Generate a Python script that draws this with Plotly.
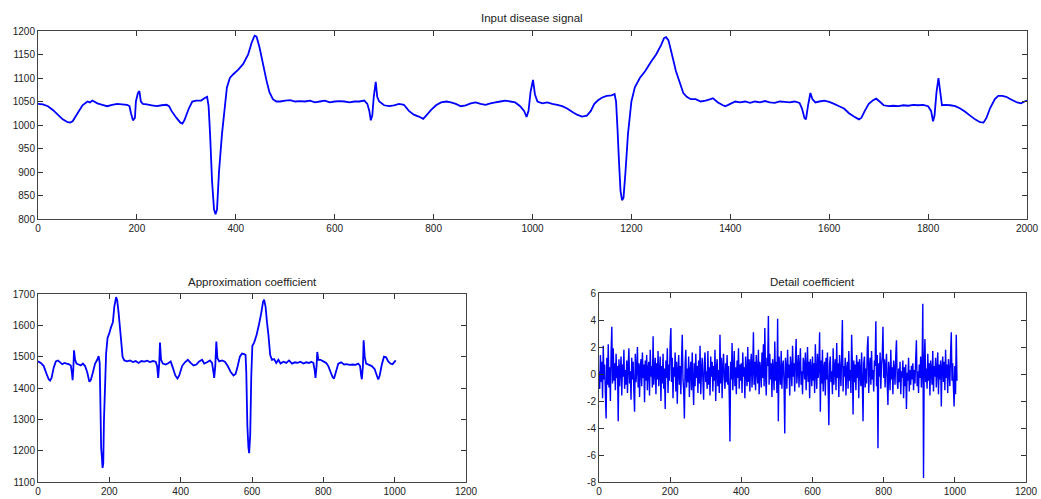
import plotly.graph_objects as go

# ---------------- data ----------------
sig_x = [0, 10, 20, 30, 40, 50, 60, 65, 70, 80, 90, 100, 105, 110, 120, 130, 140, 150, 160, 170,
         180, 185, 188, 192, 196, 198, 202, 205, 208, 212, 220, 230, 240, 250, 260, 265, 270, 280, 288, 292,
         296, 305, 312, 320, 330, 338, 342, 345, 348, 352, 356, 359, 362, 366, 372, 378, 382, 388, 395, 405,
         415, 425, 432, 438, 442, 448, 455, 462, 468, 475, 482, 490, 500, 510, 520, 530, 540, 550, 560, 570,
         580, 590, 600, 610, 620, 630, 640, 650, 660, 666, 670, 673, 676, 679, 683, 686, 690, 700, 710, 720,
         730, 740, 750, 760, 770, 779, 785, 795, 805, 815, 826, 835, 845, 855, 865, 875, 885, 895, 905, 915,
         925, 935, 945, 955, 965, 975, 983, 988, 992, 996, 1001, 1005, 1010, 1020, 1030, 1040, 1050, 1060, 1070, 1080,
         1090, 1100, 1110, 1118, 1125, 1132, 1140, 1150, 1160, 1166, 1169, 1172, 1175, 1178, 1181, 1184, 1188, 1193, 1200, 1207,
         1217, 1228, 1240, 1250, 1260, 1266, 1270, 1275, 1282, 1290, 1298, 1305, 1312, 1320, 1330, 1340, 1350, 1360, 1365, 1375,
         1385, 1390, 1400, 1410, 1420, 1430, 1440, 1450, 1460, 1470, 1480, 1490, 1500, 1510, 1520, 1530, 1540, 1545, 1550, 1553,
         1557, 1562, 1566, 1572, 1580, 1590, 1600, 1610, 1620, 1630, 1640, 1650, 1660, 1665, 1672, 1680, 1688, 1695, 1702, 1710,
         1720, 1730, 1740, 1750, 1760, 1770, 1780, 1790, 1800, 1806, 1810, 1813, 1817, 1821, 1824, 1828, 1835, 1845, 1855, 1865,
         1875, 1885, 1895, 1905, 1912, 1918, 1925, 1935, 1942, 1950, 1958, 1965, 1972, 1980, 1988, 1995, 2000]
sig_y = [1045, 1044, 1040, 1032, 1022, 1012, 1006, 1005, 1008, 1025, 1042, 1050, 1048, 1052, 1046, 1043, 1040, 1043, 1045, 1044,
         1043, 1040, 1025, 1010, 1015, 1050, 1068, 1072, 1050, 1045, 1044, 1042, 1040, 1042, 1043, 1040, 1030, 1015, 1005, 1003,
         1010, 1035, 1050, 1052, 1052, 1058, 1060, 1040, 980, 880, 820, 810, 820, 900, 980, 1040, 1080, 1100, 1108, 1118,
         1130, 1150, 1175, 1190, 1188, 1165, 1130, 1095, 1070, 1055, 1050, 1050, 1052, 1053, 1050, 1051, 1050, 1052, 1048, 1050,
         1052, 1048, 1050, 1051, 1050, 1048, 1050, 1050, 1052, 1045, 1030, 1010, 1020, 1060, 1092, 1060, 1050, 1042, 1040, 1042,
         1045, 1043, 1030, 1022, 1018, 1013, 1020, 1032, 1042, 1048, 1050, 1048, 1045, 1040, 1042, 1046, 1048, 1045, 1043, 1046,
         1048, 1050, 1052, 1050, 1048, 1040, 1030, 1017, 1030, 1070, 1096, 1065, 1050, 1046, 1048, 1045, 1043, 1040, 1035, 1028,
         1022, 1018, 1020, 1030, 1045, 1052, 1058, 1062, 1063, 1066, 1050, 990, 920, 860, 840, 845, 900, 980, 1050, 1080,
         1100, 1115, 1135, 1150, 1170, 1185, 1187, 1180, 1150, 1115, 1090, 1068, 1060, 1055, 1055, 1050, 1052, 1055, 1057, 1048,
         1042, 1040, 1045, 1050, 1048, 1050, 1047, 1050, 1048, 1051, 1048, 1047, 1050, 1049, 1048, 1050, 1047, 1035, 1015, 1012,
         1040, 1068, 1055, 1048, 1050, 1052, 1049, 1045, 1040, 1035, 1025, 1018, 1012, 1015, 1030, 1045, 1052, 1056, 1050, 1042,
         1040, 1041, 1040, 1042, 1041, 1043, 1042, 1043, 1040, 1030, 1008, 1020, 1070, 1100, 1075, 1042, 1043, 1042, 1040, 1035,
         1028, 1020, 1012, 1006, 1005, 1015, 1035, 1055, 1062, 1062, 1060, 1056, 1052, 1048, 1046, 1050, 1052]

approx_x = [0, 8, 16, 24, 30, 34, 38, 44, 50, 56, 62, 68, 74, 80, 86, 92, 95, 97, 99, 101,
            104, 108, 114, 120, 126, 132, 138, 144, 148, 154, 160, 166, 170, 173, 175, 177, 179, 181, 183, 185,
            187, 189, 191, 195, 200, 205, 210, 214, 219, 222, 226, 230, 234, 237, 242, 250, 258, 266, 274, 282,
            290, 298, 306, 314, 322, 330, 334, 337, 340, 342, 345, 350, 358, 366, 372, 378, 385, 391, 396, 404,
            412, 420, 428, 436, 444, 452, 460, 466, 474, 482, 488, 492, 494, 497, 500, 503, 508, 516, 524, 532,
            540, 548, 554, 560, 566, 572, 578, 582, 584, 587, 590, 592, 595, 598, 601, 606, 613, 620, 626, 631,
            634, 638, 642, 646, 651, 656, 662, 668, 674, 680, 688, 696, 704, 712, 720, 728, 736, 744, 752, 760,
            766, 772, 776, 778, 781, 783, 786, 792, 800, 808, 814, 820, 826, 830, 835, 842, 850, 858, 866, 874,
            882, 890, 898, 903, 906, 908, 911, 913, 916, 920, 928, 936, 944, 950, 954, 958, 964, 970, 976, 982,
            988, 994, 1000, 1003]
approx_y = [1485, 1480, 1470, 1445, 1428, 1424, 1432, 1465, 1485, 1488, 1482, 1476, 1480, 1478, 1476, 1472, 1450, 1425, 1460, 1520,
            1490, 1478, 1475, 1472, 1478, 1470, 1450, 1420, 1425, 1450, 1478, 1490, 1502, 1480, 1350, 1210, 1180, 1145, 1160, 1300,
            1370, 1440, 1510, 1560, 1575, 1595, 1610, 1660, 1690, 1680, 1640, 1590, 1540, 1500, 1488, 1485, 1488, 1483, 1486, 1480,
            1486, 1484, 1487, 1483, 1486, 1484, 1470, 1432, 1480, 1545, 1490, 1478, 1475, 1480, 1485, 1465, 1440, 1430, 1440, 1470,
            1482, 1490, 1480, 1472, 1475, 1485, 1490, 1478, 1482, 1488, 1480, 1450, 1432, 1470, 1548, 1495, 1485, 1488, 1484, 1470,
            1452, 1440, 1445, 1470, 1500, 1510, 1508, 1505, 1450, 1280, 1210, 1192, 1250, 1440, 1535, 1545, 1570, 1605, 1640, 1675,
            1682, 1660, 1610, 1570, 1505, 1490, 1492, 1480, 1490, 1478, 1484, 1480, 1488, 1478, 1482, 1480, 1484, 1478, 1482, 1480,
            1484, 1480, 1455, 1432, 1470, 1515, 1490, 1490, 1485, 1480, 1470, 1452, 1435, 1430, 1450, 1478, 1482, 1475, 1476, 1474,
            1475, 1474, 1478, 1470, 1440, 1428, 1470, 1552, 1500, 1478, 1474, 1470, 1460, 1440, 1427, 1440, 1475, 1500, 1498, 1485,
            1478, 1476, 1484, 1488]

detail_step = 2
detail_vals = [
    0.2, -1.1, 1.4, -0.6, 0.9, -1.8, 2.1, -0.4, 0.7, -1.5, -3.3, 1.2, -0.8, 2.2, -1.0, 0.5, -2.0, 1.6, 3.5, -0.7,
    1.9, -0.5, 0.8, -1.2, 1.5, -0.3, 0.6, -3.5, 1.1, -0.9, 0.4, 1.3, -1.6, 0.7, -0.2, 1.8, -1.1, 0.3, -0.8, 1.0,
    -1.4, 0.6, 1.9, -0.7, 0.2, -1.9, 1.2, -0.4, 0.9, -1.3, -2.8, 1.5, -0.6, 0.3, 2.0, -1.0, 0.8, -1.7, 0.5, 1.1,
    -0.9, 1.6, -0.3, 0.7, -2.1, 1.0, -0.5, 1.4, -1.2, 0.4, 0.9, -1.6, 1.8, -0.2, 0.6, -1.0, 2.8, -0.8, 0.3, 1.2,
    -1.5, 0.8, -0.4, 1.7, -0.9, 0.2, 1.3, -2.0, 0.6, -0.7, 1.5, -1.1, 0.4, -2.6, 1.0, -0.3, 1.9, -1.4, 0.7, -0.5,
    2.3, 3.4, -0.6, 1.2, -1.8, 0.5, -0.2, 1.6, -1.3, 0.9, -2.2, 0.3, 1.4, -0.8, 0.6, -1.5, 1.1, 2.9, -0.4, -1.2,
    -3.3, 0.7, 1.8, -1.0, 0.4, -0.6, 1.3, -1.7, 0.2, 0.9, -1.2, 1.6, -0.5, -2.3, 0.8, -0.9, 1.5, -0.3, 0.6, -1.4,
    1.0, -0.7, 2.1, -1.5, 0.3, 1.2, -0.4, -1.9, 0.8, 1.6, -0.6, 0.2, -1.1, 1.7, -0.8, 0.5, -1.6, 1.3, -0.2, 0.9,
    -1.3, 0.6, -0.5, 1.8, -2.0, 0.4, 1.1, -0.9, 0.3, -1.4, 2.9, -0.7, 1.2, -1.8, 0.5, 1.5, -0.3, -1.1, 0.8, -0.6,
    1.4, -0.8, 0.6, -1.6, -5.0, 0.9, -0.4, 2.3, -1.2, 0.2, 1.7, -0.9, 0.5, -1.5, 1.0, -0.3, 1.9, -1.1, 0.7, -0.5,
    0.8, -1.4, 1.6, -0.2, 0.5, -1.8, 1.3, 0.1, -0.9, 2.0, -0.6, 1.1, -1.3, 0.7, 1.5, -1.0, 0.3, 3.1, -0.8, 0.9,
    -1.2, 1.4, 0.2, -0.7, 1.8, -1.5, 0.9, 0.4, -1.0, 1.6, -0.3, 2.2, -0.9, 3.4, 0.1, -1.6, 1.2, 0.6, 4.3, -0.8,
    1.5, -0.4, 0.8, -1.7, 1.1, 0.3, -1.2, 2.4, -0.5, 0.9, -1.4, 4.1, -3.5, 1.3, 0.2, -0.8, 1.7, -1.1, 0.6, 1.0,
    -0.6, -4.4, 1.2, 0.5, -1.1, 1.8, -0.3, 0.7, -1.6, 1.3, 0.4, -0.9, 2.1, -0.2, 0.8, -1.3, 1.0, 2.6, -0.7, 0.3,
    1.4, -1.0, 0.6, 1.9, -0.8, 0.2, -1.5, 1.2, 0.7, -0.4, 1.6, -1.2, 0.3, 2.0, -0.6, 0.9, -1.8, 1.1, 0.4, -0.9,
    1.3, -0.5, 0.8, -1.4, 2.2, 0.1, -1.1, 1.5, -0.3, 0.6, 3.1, -2.8, 1.0, -0.7, 1.8, -1.3, 0.4, 0.9, -1.6, 1.2,
    -0.4, 1.6, -1.0, -3.8, 0.7, 1.3, -0.6, 0.2, -1.5, 1.9, -0.8, 0.5, 1.1, -1.2, 2.3, -0.3, 0.8, -1.7, 1.4, 0.2,
    -0.9, 1.5, 4.0, -1.3, 0.6, -0.2, 1.2, -1.6, 0.4, 0.9, -1.1, 1.7, -0.5, 0.3, -1.4, 2.9, 0.8, -3.0, 1.0, -0.6,
    0.7, -1.2, 1.4, -0.3, 0.9, -1.8, 1.1, 0.2, -0.9, 1.6, -0.5, -3.5, 0.8, 1.3, -1.0, 0.4, -0.7, 1.9, 2.8, -1.4,
    0.5, 1.2, -0.8, 1.7, -0.4, 0.3, -1.3, 1.0, 0.6, 3.9, -0.9, 1.4, -5.5, 0.8, -0.2, 1.6, -1.1, 0.7, 1.3, 3.5,
    -0.3, 1.1, -1.0, 0.6, 1.5, -0.7, -2.3, 0.9, 0.2, -1.2, 1.8, -0.4, 0.5, -1.5, 1.0, 0.3, -0.8, 1.4, 2.5, -0.6,
    -1.1, 0.4, -0.6, 0.9, -1.5, 0.2, -0.3, 1.0, -1.8, 0.5, -0.9, 0.7, -2.6, 0.1, -0.5, 1.2, -1.3, 0.3, -0.8, 0.6,
    -0.4, 0.8, -1.2, 0.3, -0.7, 1.1, 2.5, -0.9, 0.2, -1.4, 0.7, -0.3, 1.3, -1.0, 0.5, 5.2, -7.7, 0.9, 2.6, -0.6,
    0.4, -1.1, 1.5, -0.5, 0.8, -1.6, 1.0, 0.2, -0.8, 1.7, -1.3, 0.6, -0.2, 1.2, -1.0, 0.3, 1.6, -1.5, 0.7, -0.4,
    1.0, -2.4, 0.5, 1.3, -0.6, 0.9, -1.2, 1.8, -0.3, 0.7, -1.4, 1.1, 0.2, -0.9, 1.5, 3.1, -0.5, 0.8, -1.0, -2.4,
    0.6, -1.5, 2.9, -0.5,
]
detail_x = list(range(0, detail_step * len(detail_vals), detail_step))

titles = ["Input disease signal", "Approximation coefficient", "Detail coefficient"]

top_xticks = list(range(0, 2001, 200))
top_yticks = list(range(800, 1201, 50))
bl_xticks = list(range(0, 1201, 200))
bl_yticks = list(range(1100, 1701, 100))
br_xticks = list(range(0, 1201, 200))
br_yticks = list(range(-8, 7, 2))

# ---------------- figure ----------------
W, H = 1041, 499
BLUE = "rgb(0,0,255)"
FONT = "Liberation Sans, Arial, sans-serif"

fig = go.Figure()
fig.add_trace(go.Scatter(x=sig_x, y=sig_y, mode="lines",
                         line=dict(color=BLUE, width=1.8, simplify=False),
                         xaxis="x", yaxis="y", showlegend=False))
fig.add_trace(go.Scatter(x=approx_x, y=approx_y, mode="lines",
                         line=dict(color=BLUE, width=1.8, simplify=False),
                         xaxis="x2", yaxis="y2", showlegend=False))
fig.add_trace(go.Scatter(x=detail_x, y=detail_vals, mode="lines",
                         line=dict(color=BLUE, width=1.4, simplify=False),
                         xaxis="x3", yaxis="y3", showlegend=False))


def ax(domain, rng, ticks, anchor):
    return dict(domain=domain, range=rng, tickvals=ticks, ticktext=[str(t) for t in ticks],
                ticks="inside", ticklen=5, tickcolor="#333", tickwidth=1,
                showline=True, linecolor="#444", linewidth=1, mirror="ticks",
                showgrid=False, zeroline=False, anchor=anchor, automargin=False,
                tickfont=dict(family=FONT, size=10, color="#222"),
                fixedrange=True)


def px_x(p):
    return p / W


def px_y(p):
    return 1 - p / H


fig.update_layout(
    width=W, height=H,
    margin=dict(l=0, r=0, t=0, b=0, autoexpand=False),
    paper_bgcolor="white", plot_bgcolor="white",
    xaxis=ax([px_x(38), px_x(1027)], [0, 2000], top_xticks, "y"),
    yaxis=ax([px_y(219), px_y(31)], [800, 1200], top_yticks, "x"),
    xaxis2=ax([px_x(38), px_x(466)], [0, 1200], bl_xticks, "y2"),
    yaxis2=ax([px_y(482), px_y(294)], [1100, 1700], bl_yticks, "x2"),
    xaxis3=ax([px_x(599), px_x(1026)], [0, 1200], br_xticks, "y3"),
    yaxis3=ax([px_y(482), px_y(293)], [-8, 6], br_yticks, "x3"),
    annotations=[
        dict(text=titles[0], x=px_x(532), y=px_y(18), xref="paper", yref="paper", showarrow=False,
             xanchor="center", yanchor="middle", font=dict(family=FONT, size=11.5, color="#222")),
        dict(text=titles[1], x=px_x(252), y=px_y(282), xref="paper", yref="paper", showarrow=False,
             xanchor="center", yanchor="middle", font=dict(family=FONT, size=11.5, color="#222")),
        dict(text=titles[2], x=px_x(812), y=px_y(282), xref="paper", yref="paper", showarrow=False,
             xanchor="center", yanchor="middle", font=dict(family=FONT, size=11.5, color="#222")),
    ],
)

fig.write_html("out.html", config={"displayModeBar": False},
               post_script="document.body.style.margin='0';document.body.style.overflow='hidden';")
